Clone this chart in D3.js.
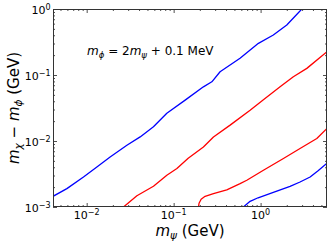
<!DOCTYPE html>
<html><head><meta charset="utf-8">
<script src="https://cdn.jsdelivr.net/npm/d3@7"></script>
<style>
html,body{margin:0;padding:0;background:#fff;}
svg{display:block;font-family:"DejaVu Sans",sans-serif;}
</style></head>
<body><svg id="c" width="332" height="246"></svg>
<script>
// ---- data ----
const blueUpperX = [0.0041,0.00592,0.00919,0.0131,0.0186,0.029,0.0412,0.0586,0.0835,0.1356,0.22,0.275,0.342,0.58,0.944,1.40,2.0,2.98];
const blueUpperY = [0.00145,0.0019,0.00285,0.00405,0.00574,0.00863,0.01154,0.0164,0.0264,0.0416,0.0662,0.0789,0.112,0.179,0.302,0.403,0.572,1.0];
const redUpperX = [0.0265,0.0378,0.0586,0.0835,0.109,0.147,0.22,0.287,0.446,0.757,1.077,1.675,2.38,3.40,5.8];
const redUpperY = [0.001,0.00148,0.00206,0.00303,0.00383,0.00548,0.00813,0.0115,0.0174,0.0293,0.0423,0.0662,0.094,0.126,0.225];
const redLowerX = [0.193,0.196,0.207,0.23,0.287,0.408,0.581,0.694,1.077,1.83,2.84,4.43,5.8];
const redLowerY = [0.001,0.00114,0.00131,0.00145,0.0016,0.00182,0.00226,0.00254,0.0036,0.00542,0.00769,0.0109,0.0155];
const blueLowerX = [0.634,0.757,0.936,1.40,2.18,2.84,3.71,4.58,5.8];
const blueLowerY = [0.001,0.00122,0.00138,0.00167,0.00206,0.00239,0.00285,0.00354,0.0046];
const xMajorExp = [-2,-1,0];
const yMajorExp = [-3,-2,-1,0];
const xDomain = [0.0041, 5.8];
const yDomain = [0.001, 1];

const curves = [
  {x: blueUpperX, y: blueUpperY, color: "#0000ff"},
  {x: redUpperX, y: redUpperY, color: "#ff0000"},
  {x: redLowerX, y: redLowerY, color: "#ff0000"},
  {x: blueLowerX, y: blueLowerY, color: "#0000ff"}
];

const L = 53, R = 327, T = 9, B = 207;
const svg = d3.select("#c");
const x = d3.scaleLog().domain(xDomain).range([L, R]);
const y = d3.scaleLog().domain(yDomain).range([B, T]);

function minorTicks(scale) {
  const [a, b] = scale.domain();
  const out = [];
  for (let e = Math.floor(Math.log10(a)); e <= Math.ceil(Math.log10(b)); e++) {
    for (let m = 2; m <= 9; m++) {
      const v = m * Math.pow(10, e);
      if (v >= a && v <= b) out.push(v);
    }
  }
  return out;
}
const xMajors = xMajorExp.map(e => Math.pow(10, e));
const yMajors = yMajorExp.map(e => Math.pow(10, e));

const plot = svg.append("g");
plot.append("defs").append("clipPath").attr("id","clip")
  .append("rect").attr("x",L).attr("y",T).attr("width",R-L).attr("height",B-T);

// curves
const line = d3.line().x(d => x(d[0])).y(d => y(d[1]));
const cg = plot.append("g").attr("clip-path","url(#clip)");
curves.forEach(c => {
  cg.append("path").datum(c.x.map((v,i)=>[v,c.y[i]]))
    .attr("d", line).attr("fill","none").attr("stroke", c.color)
    .attr("stroke-width",1.3).attr("stroke-linejoin","round");
});

// axes (ticks inward on all sides)
function styleAxis(g){ g.select(".domain").remove(); g.selectAll("line").attr("stroke","#222").attr("stroke-width",0.8); }
const noLab = () => "";
svg.append("g").attr("transform",`translate(0,${B})`).call(d3.axisBottom(x).tickValues(xMajors).tickSize(-4).tickFormat(noLab)).call(styleAxis);
svg.append("g").attr("transform",`translate(0,${B})`).call(d3.axisBottom(x).tickValues(minorTicks(x)).tickSize(-2).tickFormat(noLab)).call(styleAxis);
svg.append("g").attr("transform",`translate(0,${T})`).call(d3.axisTop(x).tickValues(xMajors).tickSize(-4).tickFormat(noLab)).call(styleAxis);
svg.append("g").attr("transform",`translate(0,${T})`).call(d3.axisTop(x).tickValues(minorTicks(x)).tickSize(-2).tickFormat(noLab)).call(styleAxis);
svg.append("g").attr("transform",`translate(${L},0)`).call(d3.axisLeft(y).tickValues(yMajors).tickSize(-4).tickFormat(noLab)).call(styleAxis);
svg.append("g").attr("transform",`translate(${L},0)`).call(d3.axisLeft(y).tickValues(minorTicks(y)).tickSize(-2).tickFormat(noLab)).call(styleAxis);
svg.append("g").attr("transform",`translate(${R},0)`).call(d3.axisRight(y).tickValues(yMajors).tickSize(-4).tickFormat(noLab)).call(styleAxis);
svg.append("g").attr("transform",`translate(${R},0)`).call(d3.axisRight(y).tickValues(minorTicks(y)).tickSize(-2).tickFormat(noLab)).call(styleAxis);

// frame
svg.append("rect").attr("x",L+0.5).attr("y",T+0.5).attr("width",R-L-1).attr("height",B-T-1)
  .attr("fill","none").attr("stroke","#333").attr("stroke-width",1);

// tick labels with superscripts
function supLabel(g, e) {
  g.append("tspan").text("10");
  g.append("tspan").attr("dy","-0.45em").attr("font-size","8px").text(e < 0 ? "\u2212" + (-e) : String(e));
}
xMajorExp.forEach(e => {
  const t = svg.append("text").attr("x", x(Math.pow(10,e))).attr("y", 219)
    .attr("text-anchor","middle").attr("font-size","11px").attr("fill","#000");
  supLabel(t, e);
});
yMajorExp.forEach(e => {
  const t = svg.append("text").attr("x", 50.5).attr("y", y(Math.pow(10,e)) + 4.5)
    .attr("text-anchor","end").attr("font-size","11px").attr("fill","#000");
  supLabel(t, e);
});

// axis labels
const xl = svg.append("text").attr("x",190).attr("y",235.5).attr("text-anchor","middle").attr("font-size","15px").attr("fill","#000");
xl.append("tspan").attr("font-style","italic").text("m");
xl.append("tspan").attr("font-style","italic").attr("font-size","10.5px").attr("dy","3").text("\u03c8");
xl.append("tspan").attr("dy","-3").text(" (GeV)");

const yl = svg.append("text").attr("transform","translate(18.5,108) rotate(-90)").attr("text-anchor","middle").attr("font-size","15px").attr("fill","#000");
yl.append("tspan").attr("font-style","italic").text("m");
yl.append("tspan").attr("font-style","italic").attr("font-size","10.5px").attr("dy","3").text("\u03c7");
yl.append("tspan").attr("dy","-3").text(" \u2212 ");
yl.append("tspan").attr("font-style","italic").text("m");
yl.append("tspan").attr("font-style","italic").attr("font-size","10.5px").attr("dy","3").text("\u03d5");
yl.append("tspan").attr("dy","-3").text(" (GeV)");

// annotation
const an = svg.append("text").attr("x",87).attr("y",55).attr("font-size","12px").attr("fill","#000");
an.append("tspan").attr("font-style","italic").text("m");
an.append("tspan").attr("font-style","italic").attr("font-size","8.5px").attr("dy","2.5").text("\u03d5");
an.append("tspan").attr("dy","-2.5").text(" = 2");
an.append("tspan").attr("font-style","italic").text("m");
an.append("tspan").attr("font-style","italic").attr("font-size","8.5px").attr("dy","2.5").text("\u03c8");
an.append("tspan").attr("dy","-2.5").text(" + 0.1 MeV");
</script></body></html>
